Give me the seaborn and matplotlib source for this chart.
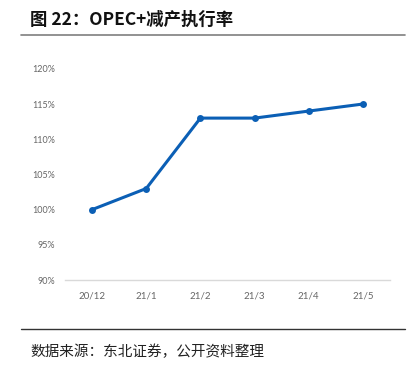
import matplotlib
matplotlib.use('Agg')
import pandas as pd
import seaborn as sns
import matplotlib.pyplot as plt
from matplotlib.ticker import FuncFormatter

# Data
months = ['20/12', '21/1', '21/2', '21/3', '21/4', '21/5']
rate = [100, 103, 113, 113, 114, 115]
yticks = [90, 95, 100, 105, 110, 115, 120]

df = pd.DataFrame({'month': months, 'rate': rate})

sns.set_style('white')
plt.rcParams['font.family'] = ['Noto Sans CJK SC', 'DejaVu Sans']

fig = plt.figure(figsize=(4.11, 3.68), dpi=100)
ax = fig.add_axes([0.158, 0.239, 0.791, 0.574])

sns.lineplot(x='month', y='rate', data=df, ax=ax, color='#0b5fb5',
             linewidth=2.2, marker='o', markersize=5, markeredgewidth=0)

ax.set_xlim(-0.5, len(months) - 0.5)
ax.set_ylim(90, 120)
ax.set_yticks(yticks)
ax.yaxis.set_major_formatter(FuncFormatter(lambda v, p: f'{v:.0f}%'))
ax.set_xlabel('')
ax.set_ylabel('')

for s in ['top', 'right', 'left']:
    ax.spines[s].set_visible(False)
ax.spines['bottom'].set_color('#d9d9d9')
ax.spines['bottom'].set_linewidth(1)
ax.tick_params(axis='both', length=0, labelsize=6.5, labelcolor='#666666',
               labelfontfamily='Lato')
ax.tick_params(axis='x', pad=8, labelsize=7)
ax.tick_params(axis='y', pad=7)

# Title, rules and source note
fig.text(0.073, 0.945, '图 22：OPEC+减产执行率', fontsize=12.5, fontweight='bold',
         ha='left', va='center', color='#111111')
fig.add_artist(plt.Line2D([0.05, 0.985], [0.905, 0.905], color='#7f7f7f',
                          linewidth=1.2, transform=fig.transFigure))
fig.add_artist(plt.Line2D([0.05, 0.985], [0.106, 0.106], color='#333333',
                          linewidth=1.0, transform=fig.transFigure))
fig.text(0.073, 0.044, '数据来源：东北证券，公开资料整理', fontsize=10.5,
         ha='left', va='center', color='#222222')

plt.savefig('out.png', dpi=100)
